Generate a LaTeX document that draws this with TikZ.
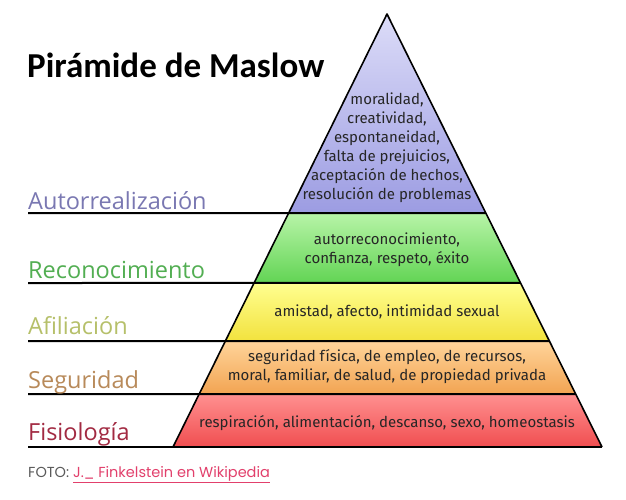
\documentclass[tikz,border=0pt]{standalone}
\usepackage{fontspec}
\setmainfont{Open Sans}
\newfontfamily\titlefont{Carlito}
\newfontfamily\bandfont{Fira Sans}
\newfontfamily\footfont{Poppins}
\usetikzlibrary{calc}
\definecolor{purpT}{HTML}{DCDCF8}
\definecolor{purpB}{HTML}{9C9CE2}
\definecolor{grnT}{HTML}{B8F4A8}
\definecolor{grnB}{HTML}{62D454}
\definecolor{yelT}{HTML}{FFFF90}
\definecolor{yelB}{HTML}{F2E23E}
\definecolor{orgT}{HTML}{FFD49A}
\definecolor{orgB}{HTML}{F2A452}
\definecolor{redT}{HTML}{FF9090}
\definecolor{redB}{HTML}{F04E50}
\definecolor{lblA}{HTML}{7A78B2}
\definecolor{lblR}{HTML}{52AE52}
\definecolor{lblF}{HTML}{B6C06A}
\definecolor{lblS}{HTML}{B88A5A}
\definecolor{lblP}{HTML}{A22A42}
\definecolor{footgray}{HTML}{5A5A5A}
\definecolor{footlink}{HTML}{E2406C}
\tikzset{
  bandtext/.style={font=\bandfont\fontsize{15}{19}\selectfont, align=center, inner sep=0pt, text=black!85},
  lvl/.style={font=\fontsize{23.5}{25}\selectfont, anchor=base west, inner sep=0pt},
  rule/.style={line width=2pt, black},
  edge/.style={line width=1.6pt, black, line join=round}
}
\begin{document}
\begin{tikzpicture}[x=1pt,y=-1pt]
\useasboundingbox (0,0) rectangle (626,500);
\fill[white] (0,0) rectangle (626,500);
\coordinate (A) at (387,14);
\coordinate (BL) at (173,447);
\coordinate (BR) at (602,447);
\coordinate (L1) at ($(A)!0.4596!(BL)$);
\coordinate (R1) at ($(A)!0.4596!(BR)$);
\coordinate (L2) at ($(A)!0.6212!(BL)$);
\coordinate (R2) at ($(A)!0.6212!(BR)$);
\coordinate (L3) at ($(A)!0.7552!(BL)$);
\coordinate (R3) at ($(A)!0.7552!(BR)$);
\coordinate (L4) at ($(A)!0.8776!(BL)$);
\coordinate (R4) at ($(A)!0.8776!(BR)$);
% bands
\shade[top color=purpT, bottom color=purpB] (A) -- (R1) -- (L1) -- cycle;
\shade[top color=grnT, bottom color=grnB] (L1) -- (R1) -- (R2) -- (L2) -- cycle;
\shade[top color=yelT, bottom color=yelB] (L2) -- (R2) -- (R3) -- (L3) -- cycle;
\shade[top color=orgT, bottom color=orgB] (L3) -- (R3) -- (R4) -- (L4) -- cycle;
\shade[top color=redT, bottom color=redB] (L4) -- (R4) -- (BR) -- (BL) -- cycle;
% outline
\draw[edge] (BL) -- (A) -- (BR);
% left rules
\coordinate (S1) at (28,213);
\coordinate (S2) at (28,283);
\coordinate (S3) at (28,341);
\coordinate (S4) at (28,394);
\coordinate (S5) at (28,447);
\draw[rule] (S1) -- (R1);
\draw[rule] (S2) -- (R2);
\draw[rule] (S3) -- (R3);
\draw[rule] (S4) -- (R4);
\draw[rule] (S5) -- (BR);
% title
\node[font=\titlefont\bfseries\fontsize{35}{38}\selectfont, anchor=base west, inner sep=0pt] (title) at (27,78) {Pirámide de Maslow};
% level labels
\node[lvl, text=lblA] (la) at (28,209) {Autorrealización};
\node[lvl, text=lblR] (lr) at (28,278) {Reconocimiento};
\node[lvl, text=lblF] (lf) at (28,334) {Afiliación};
\node[lvl, text=lblS] (ls) at (28,388) {Seguridad};
\node[lvl, text=lblP] (lp) at (28,440) {Fisiología};
% band texts
\node[bandtext] (t1) at (387,148) {moralidad,\\creatividad,\\espontaneidad,\\falta de prejuicios,\\aceptación de hechos,\\resolución de problemas};
\node[bandtext] (t2) at (387,250) {autorreconocimiento,\\confianza, respeto, éxito};
\node[bandtext] (t3) at (387,312) {amistad, afecto, intimidad sexual};
\node[bandtext] (t4) at (387,367) {seguridad física, de empleo, de recursos,\\moral, familiar, de salud, de propiedad privada};
\node[bandtext] (t5) at (387,423) {respiración, alimentación, descanso, sexo, homeostasis};
% footer
\node[font=\footfont\fontsize{14.5}{16}\selectfont, anchor=base west, inner sep=0pt, text=footgray] (foot) at (28,477) {FOTO: \textcolor{footlink}{\underline{J.\_\ Finkelstein en Wikipedia}}};
\end{tikzpicture}
\end{document}
